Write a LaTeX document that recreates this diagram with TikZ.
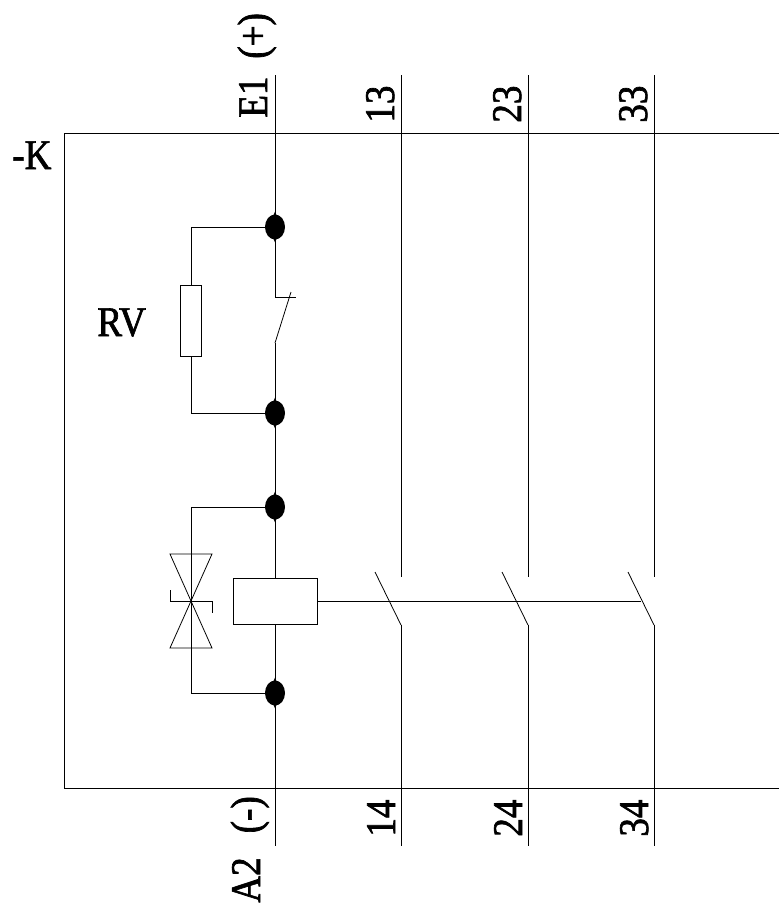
\documentclass[tikz,border=0pt]{standalone}
\usepackage{fontspec}
\newfontfamily\labelfont[FakeStretch=0.88, FakeBold=1.6]{Liberation Serif}
\usetikzlibrary{calc, shapes.geometric}

\tikzset{
	wire/.style = {line width = 0.45pt},
	junction/.style = {ellipse, fill = black, inner sep = 0, minimum width = 0.4cm, minimum height = 0.5cm},
	spike/.style = {diamond, fill = black, inner sep = 0, minimum width = 0.28cm, minimum height = 0.62cm},
	part/.style = {rectangle, draw, line width = 0.45pt, fill = white, inner sep = 0},
	pinlabel/.style = {rotate = 90, anchor = base west, inner sep = 0},
	tag/.style = {anchor = base west, inner sep = 0}
}

\begin{document}
\begin{tikzpicture}[x = 0.02cm, y = -0.02cm, font = \labelfont\fontsize{24}{28}\selectfont]
	\useasboundingbox (0,0) rectangle (779,910);

	\def\yTOP{75};
	\def\yBOT{846};
	\def\xMAIN{275};
	\def\xRV{191};

	% frame, open on the right
	\coordinate (frameTR) at (779,133);
	\coordinate (frameTL) at (64,133);
	\coordinate (frameBL) at (64,788);
	\coordinate (frameBR) at (779,788);
	\draw [wire] (frameTR) -- (frameTL) -- (frameBL) -- (frameBR);

	% main line
	\coordinate (E1) at (\xMAIN,\yTOP);
	\coordinate (A2) at (\xMAIN,\yBOT);
	\foreach \n/\y in {1/227, 2/413, 3/507, 4/693} {
		\node [spike] (s\n) at (\xMAIN,\y) {};
		\node [junction] (j\n) at (\xMAIN,\y) {};
	}
	\node [part, minimum width = 1.68cm, minimum height = 0.92cm] (coil) at (\xMAIN,601) {};

	\coordinate (swTop) at (\xMAIN,297);
	\coordinate (swTick) at (296,297);
	\coordinate (swBot) at (\xMAIN,343);
	\coordinate (swEnd) at (291,292);

	\begin{scope}[wire]
		\draw (E1) -- (j1) -- (swTop) -- (swTick);
		\draw (swBot) -- (swEnd);
		\draw (swBot) -- (j2) -- (j3) -- (coil);
		\draw (coil) -- (j4) -- (A2);
	\end{scope}

	% resistor branch
	\node [part, minimum width = 0.42cm, minimum height = 1.42cm] (RVbox) at (\xRV,320.5) {};
	\draw [wire] (j1) -| (RVbox);
	\draw [wire] (j2) -| (RVbox);

	% varistor branch
	\coordinate (vTL) at (170,554);
	\coordinate (vTR) at (212,554);
	\coordinate (vC) at (\xRV,601);
	\coordinate (vBL) at (170,648);
	\coordinate (vBR) at (212,648);
	\coordinate (vL) at (170,601);
	\coordinate (vR) at (212,601);
	\coordinate (vLt) at (170,590);
	\coordinate (vRt) at (212,613);
	\begin{scope}[wire]
		\draw (j3) -| (vC);
		\draw (j4) -| (vC);
		\draw (vC) -- (vTL) -- (vTR) -- cycle;
		\draw (vC) -- (vBL) -- (vBR) -- cycle;
		\draw (vLt) -- (vL) -- (vR) -- (vRt);
	\end{scope}

	% contacts
	\foreach \x/\top/\bot in {401/13/14, 528/23/24, 654/33/34} {
		\coordinate (c\top) at (\x,\yTOP);
		\coordinate (o\top) at (\x,577);
		\coordinate (o\bot) at (\x,625);
		\coordinate (c\bot) at (\x,\yBOT);
		\coordinate (b\top) at (\x-26,572);
		\draw [wire] (c\top) -- (o\top);
		\draw [wire] (b\top) -- (o\bot);
		\draw [wire] (o\bot) -- (c\bot);
		\node [pinlabel] (l\top) at (\x-7,123) {\top};
		\node [pinlabel] (l\bot) at (\x-6,837) {\bot};
	}
	\coordinate (link) at (641,601);
	\draw [wire] (coil) -- (link);

	% labels
	\node [pinlabel] (lE1) at (267,118) {E1\hspace{0.2em} (+)};
	\node [pinlabel] (lA2) at (260,903) {A2\hspace{0.35em} (-)};
	\node [tag] (lK) at (12,169) {-K};
	\node [tag] (lRV) at (97,336) {RV};
\end{tikzpicture}
\end{document}
